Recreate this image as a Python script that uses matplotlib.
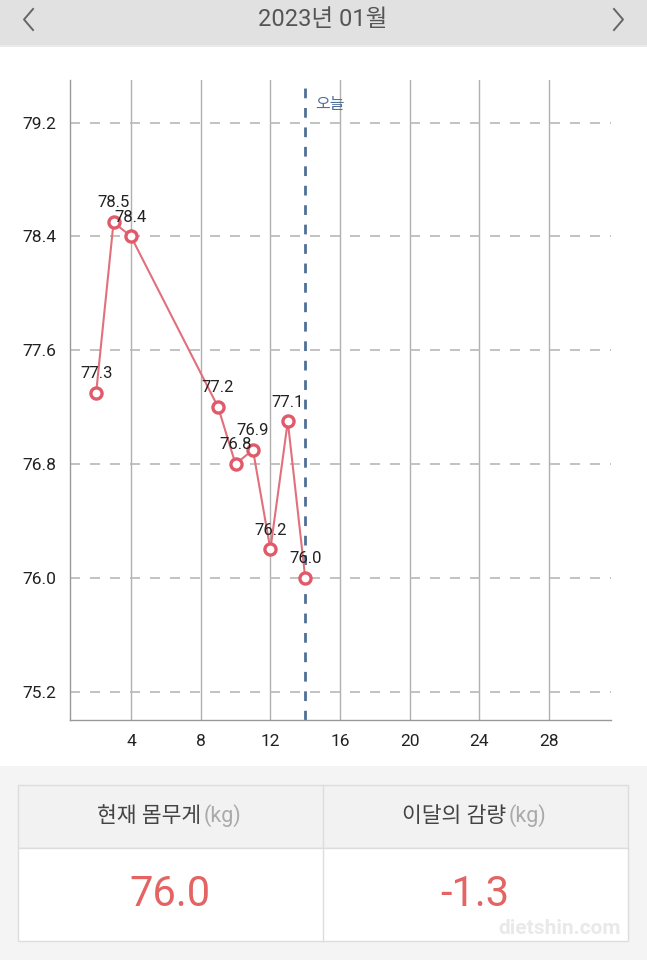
import matplotlib
matplotlib.use("Agg")
import matplotlib.pyplot as plt
from matplotlib.patches import Rectangle

plt.rcParams['font.family'] = ['Roboto', 'Noto Sans CJK KR', 'DejaVu Sans']

# ---- data ----
days = [2, 3, 4, 9, 10, 11, 12, 13, 14]
weights = [77.3, 78.5, 78.4, 77.2, 76.8, 76.9, 76.2, 77.1, 76.0]
x_ticks = [4, 8, 12, 16, 20, 24, 28]
y_ticks = [75.2, 76.0, 76.8, 77.6, 78.4, 79.2]
today = 14
title = "2023년 01월"
today_label = "오늘"
summary_headers = ["현재 몸무게", "이달의 감량"]
summary_unit = "(kg)"
summary_values = ["76.0", "-1.3"]

W, H = 647, 960
fig = plt.figure(figsize=(W / 100, H / 100), dpi=100)
fig.patch.set_facecolor("white")

def fx(x):
    return x / W

def fy(y):
    return 1 - y / H

# ---- header band ----
fig.patches.append(Rectangle((0, fy(45)), 1, 45 / H, transform=fig.transFigure,
                             facecolor="#e1e1e1", edgecolor="none", zorder=0))
fig.patches.append(Rectangle((0, fy(47)), 1, 2 / H, transform=fig.transFigure,
                             facecolor="#ebebeb", edgecolor="none", zorder=0))
fig.text(fx(323), fy(20), title, ha="center", va="center", fontsize=17, color="#555555")
fig.lines.append(plt.Line2D([fx(33), fx(24), fx(33)], [fy(9), fy(19.5), fy(30)],
                            transform=fig.transFigure, color="#666666", lw=1.4))
fig.lines.append(plt.Line2D([fx(614), fx(623), fx(614)], [fy(9), fy(19.5), fy(30)],
                            transform=fig.transFigure, color="#666666", lw=1.4))

# ---- chart ----
ax = fig.add_axes([fx(70), fy(720), (611 - 70) / W, (720 - 80) / H])
ax.set_xlim(0.5, 31.55)
ax.set_ylim(75.0, 79.5)
ax.set_facecolor("white")

for t in x_ticks:
    ax.axvline(t, color="#b0b0b0", lw=1.0, zorder=1)
for t in y_ticks:
    ax.axhline(t, color="#b8b8b8", lw=1.2, ls=(0, (6, 6)), zorder=1)

ax.axvline(today, color="#4f7096", lw=2.0, ls=(0, (3.5, 3.5)), zorder=2)
ax.text(today + 0.6, 79.33, today_label, ha="left", va="center", fontsize=11.5,
        color="#4f7096")

ax.plot(days, weights, color="#e2707c", lw=1.5, zorder=3)
ax.plot(days, weights, ls="none", marker="o", ms=8, mfc="white",
        mec="#e05a6a", mew=2.4, zorder=4)
for d, w in zip(days, weights):
    ax.annotate(f"{w:.1f}", (d, w), xytext=(0, 8.5), textcoords="offset points",
                ha="center", va="bottom", fontsize=12, color="#222222", zorder=5)

ax.set_xticks(x_ticks)
ax.set_yticks(y_ticks)
ax.set_yticklabels([f"{v:.1f}" for v in y_ticks])
ax.tick_params(axis="both", length=0, labelsize=12.5, labelcolor="#222222")
ax.tick_params(axis="y", pad=10)
ax.tick_params(axis="x", pad=10)
for s in ["top", "right"]:
    ax.spines[s].set_visible(False)
for s in ["left", "bottom"]:
    ax.spines[s].set_color("#999999")
    ax.spines[s].set_linewidth(1.0)

# ---- summary area ----
fig.patches.append(Rectangle((0, 0), 1, fy(766), transform=fig.transFigure,
                             facecolor="#f4f4f4", edgecolor="none", zorder=0))
fig.patches.append(Rectangle((fx(18), fy(848)), (628 - 18) / W, (848 - 785) / H,
                             transform=fig.transFigure, facecolor="#f2f2f2",
                             edgecolor="#dddddd", lw=1, zorder=1))
fig.patches.append(Rectangle((fx(18), fy(941)), (628 - 18) / W, (941 - 848) / H,
                             transform=fig.transFigure, facecolor="white",
                             edgecolor="#dddddd", lw=1, zorder=1))
fig.lines.append(plt.Line2D([fx(323), fx(323)], [fy(785), fy(941)],
                            transform=fig.transFigure, color="#dddddd", lw=1, zorder=2))

head_right = [201, 506]
value_centers = [170, 475]
for hx, vx, head, val in zip(head_right, value_centers, summary_headers, summary_values):
    fig.text(fx(hx), fy(816), head, ha="right", va="center",
             fontsize=15.5, color="#444444", zorder=3)
    fig.text(fx(hx + 3), fy(816), summary_unit, ha="left", va="center",
             fontsize=15.5, color="#aaaaaa", zorder=3)
    fig.text(fx(vx), fy(895), val, ha="center", va="center",
             fontsize=30, color="#e46464", zorder=3)

fig.text(fx(560), fy(929), "dietshin.com", ha="center", va="center",
         fontsize=15, color="#e4e4e4", alpha=0.8, zorder=4, fontweight="bold")

fig.savefig("out.png", dpi=100, facecolor=fig.get_facecolor())
